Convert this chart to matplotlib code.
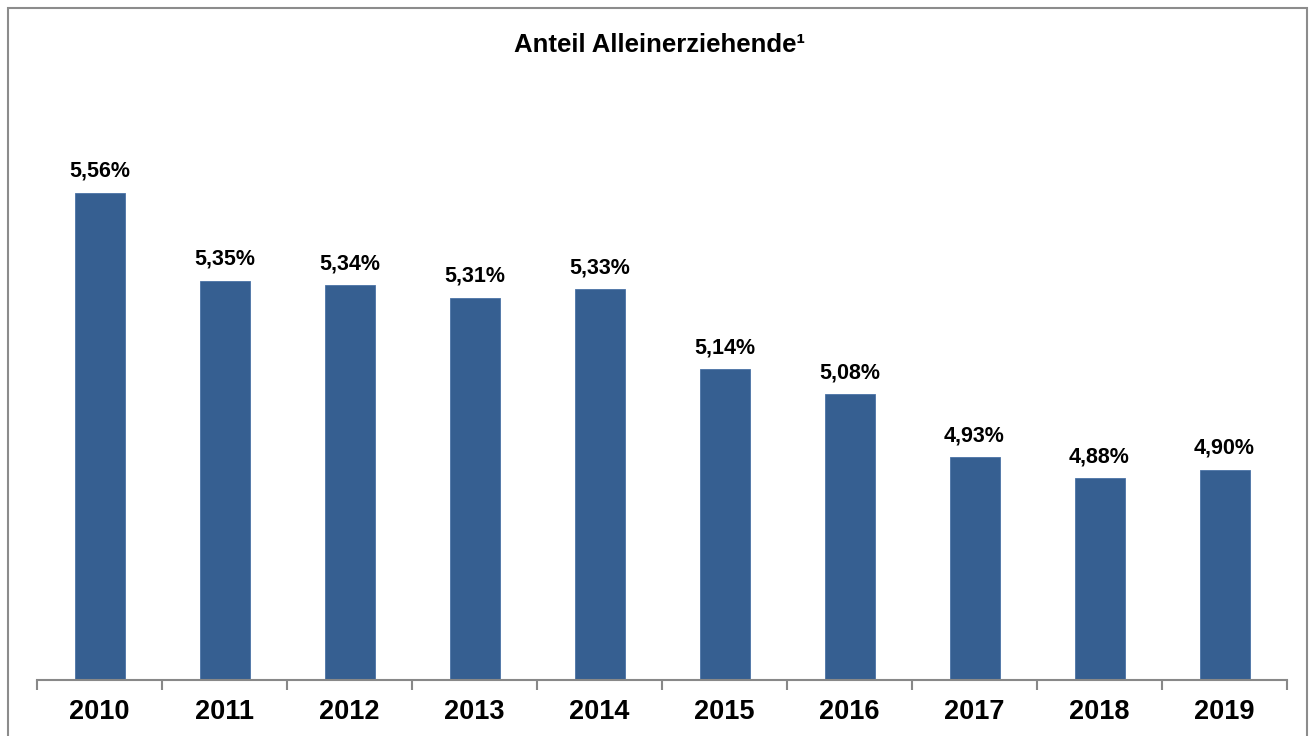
import numpy as np
import matplotlib.pyplot as plt
from matplotlib.patches import Rectangle

plt.rcParams['font.family'] = ['Liberation Sans', 'DejaVu Sans']

years = ['2010', '2011', '2012', '2013', '2014', '2015', '2016', '2017', '2018', '2019']
values = [5.56, 5.35, 5.34, 5.31, 5.33, 5.14, 5.08, 4.93, 4.88, 4.90]
labels = ['5,56%', '5,35%', '5,34%', '5,31%', '5,33%', '5,14%', '5,08%', '4,93%', '4,88%', '4,90%']

W, H = 1310, 736
fig = plt.figure(figsize=(W / 100, H / 100), dpi=100)
ax = fig.add_axes([37 / W, (H - 680) / H, (1287 - 37) / W, (680 - 8) / H])

ind = np.arange(len(years))
# bars start at 0, the axis cuts them at 4.4
ax.bar(ind, values, 0.4, color='#365f91', edgecolor='#4a73a6', linewidth=0.6)
ax.set_xlim(-0.5, len(years) - 0.5)
ax.set_ylim(4.4, 6.0)

for i in ind:
    ax.annotate(labels[i], (i, values[i]), xytext=(0, 8), textcoords='offset points',
                ha='center', va='bottom', fontsize=15.5, fontweight='bold')

for s in ['top', 'right', 'left']:
    ax.spines[s].set_visible(False)
ax.spines['bottom'].set_color('#888888')
ax.spines['bottom'].set_linewidth(1.5)
ax.set_yticks([])

# ticks between the categories, labels centred under the bars
ax.set_xticks(np.arange(len(years) + 1) - 0.5)
ax.set_xticklabels([])
ax.set_xticks(ind, minor=True)
ax.set_xticklabels(years, minor=True, fontsize=19.5, fontweight='bold')
ax.tick_params(axis='x', which='major', direction='out', length=7, width=1.5, color='#888888')
ax.tick_params(axis='x', which='minor', length=0, pad=14)

fig.text(660 / W, 1 - 45 / H, 'Anteil Alleinerziehende\u00b9', ha='center', va='center',
         fontsize=18.5, fontweight='bold')

fig.patches.append(Rectangle((7.5 / W, -0.05), (1307 - 7.5) / W, 1.05 - 8.5 / H,
                             transform=fig.transFigure, fill=False,
                             edgecolor='#8c8c8c', linewidth=1.5))

fig.savefig('out.png', dpi=100)
